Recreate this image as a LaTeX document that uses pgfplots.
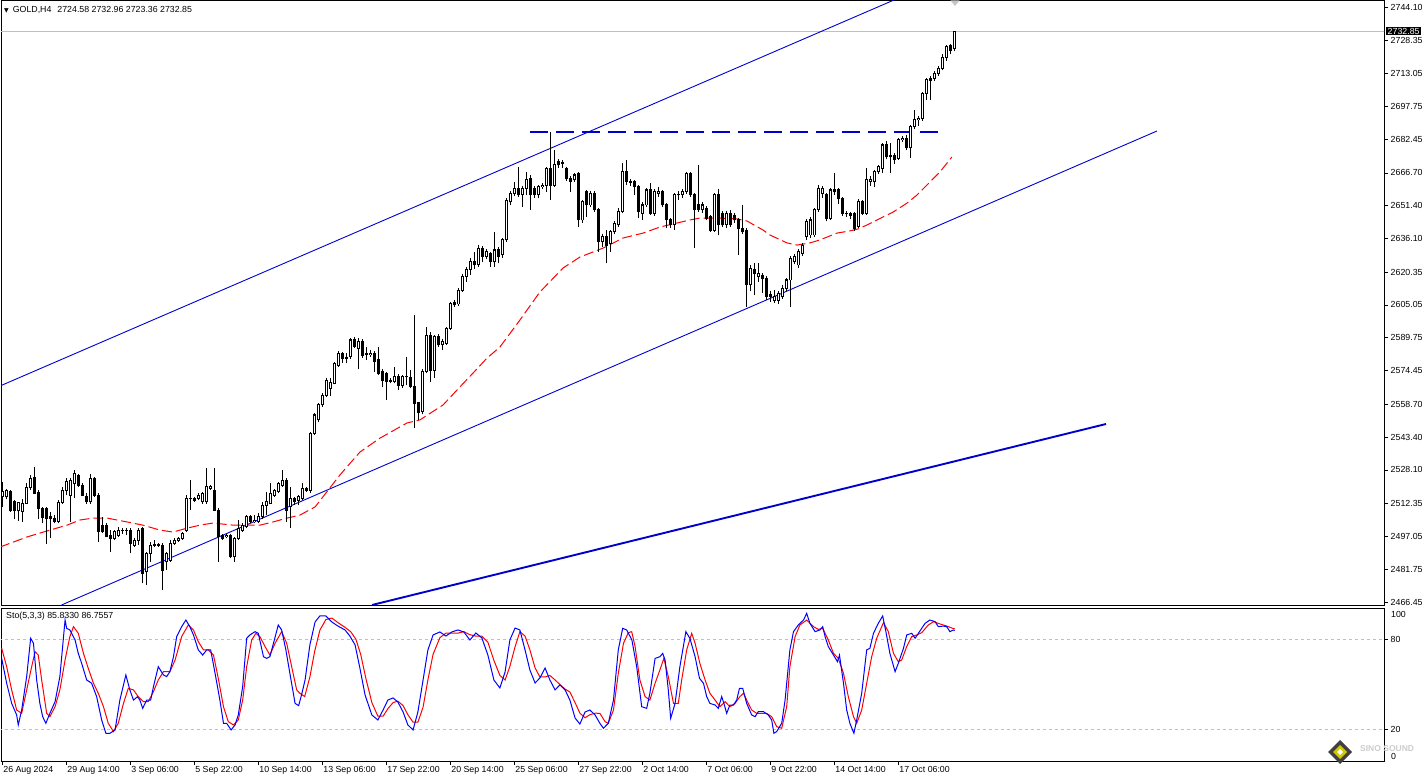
\documentclass[border=0pt]{standalone}
\usepackage{fontspec}
\setmainfont{Liberation Sans}
\newfontfamily\dejavu{DejaVu Sans}
\usepackage{pgfplots}
\usepackage{pgfplotstable}
\pgfplotsset{compat=1.18}
\definecolor{chanblue}{RGB}{0,0,205}
\definecolor{kblue}{RGB}{0,0,255}
\definecolor{dred}{RGB}{255,0,0}
\definecolor{lgray}{RGB}{192,192,192}

\pgfplotstableread{
i o h l c
0 2515.5 2522.6 2510.9 2517.9
1 2515.5 2519.4 2514.3 2518.3
2 2517.9 2518.7 2508.5 2509.0
3 2513.2 2514.0 2505.4 2509.0
4 2509.0 2513.2 2504.3 2512.7
5 2508.5 2514.3 2503.9 2512.4
6 2512.4 2521.8 2512.1 2519.9
7 2519.9 2525.7 2518.7 2524.1
8 2524.6 2529.6 2516.8 2517.1
9 2517.4 2518.7 2505.4 2510.1
10 2510.1 2510.9 2503.1 2505.9
11 2510.0 2510.9 2493.5 2505.4
12 2506.5 2508.5 2496.1 2505.3
13 2505.3 2507.0 2503.1 2504.0
14 2504.0 2514.0 2503.1 2513.1
15 2513.1 2520.2 2512.4 2518.7
16 2518.7 2524.1 2516.2 2522.6
17 2516.3 2524.1 2503.9 2523.3
18 2521.8 2528.0 2514.8 2526.4
19 2525.7 2526.4 2520.2 2521.0
20 2521.0 2521.8 2515.9 2516.3
21 2515.5 2517.1 2512.4 2513.2
22 2513.2 2526.4 2512.4 2524.1
23 2524.1 2524.9 2515.5 2516.3
24 2516.3 2517.1 2494.5 2499.2
25 2502.3 2506.2 2498.7 2499.2
26 2502.3 2503.1 2496.6 2496.9
27 2497.7 2500.0 2489.9 2496.1
28 2496.1 2500.0 2495.3 2499.2
29 2497.7 2501.6 2496.9 2500.0
30 2500.0 2500.8 2498.4 2499.8
31 2500.0 2500.8 2497.7 2499.8
32 2500.0 2501.2 2489.1 2493.8
33 2493.0 2496.1 2492.2 2495.3
34 2495.3 2500.8 2493.0 2500.0
35 2500.8 2501.6 2475.1 2479.8
36 2480.5 2489.9 2474.3 2489.1
37 2489.1 2494.5 2485.2 2493.0
38 2493.0 2495.3 2491.9 2493.1
39 2493.0 2493.8 2492.2 2493.1
40 2493.0 2493.8 2472.0 2481.3
41 2485.2 2489.9 2481.3 2489.1
42 2486.0 2495.3 2485.2 2493.8
43 2493.8 2496.1 2493.0 2495.3
44 2495.3 2496.9 2494.5 2496.1
45 2496.1 2499.2 2495.3 2498.4
46 2500.0 2516.3 2499.2 2514.8
47 2514.8 2523.3 2509.3 2514.6
48 2514.8 2515.5 2513.2 2514.0
49 2514.8 2517.1 2514.0 2516.3
50 2513.2 2517.9 2512.4 2517.1
51 2513.2 2528.8 2512.4 2520.2
52 2519.4 2521.0 2518.7 2520.2
53 2518.7 2528.8 2509.0 2509.3
54 2509.3 2510.1 2485.2 2496.9
55 2497.7 2498.4 2495.3 2496.1
56 2496.9 2498.4 2496.1 2497.7
57 2497.7 2498.4 2486.8 2487.5
58 2487.5 2496.9 2485.2 2496.1
59 2496.1 2504.7 2495.3 2500.8
60 2500.0 2503.1 2499.2 2502.3
61 2501.6 2507.0 2500.8 2506.2
62 2506.2 2507.0 2503.1 2503.9
63 2503.9 2507.0 2503.1 2504.7
64 2503.9 2507.8 2503.1 2506.2
65 2506.2 2513.2 2505.4 2511.7
66 2511.7 2517.9 2507.0 2513.2
67 2512.4 2521.8 2512.1 2517.1
68 2516.3 2519.4 2515.5 2518.7
69 2517.9 2522.6 2517.1 2521.8
70 2521.0 2528.0 2520.2 2523.3
71 2523.3 2524.1 2503.9 2509.3
72 2510.9 2520.2 2500.8 2514.8
73 2514.8 2515.5 2511.7 2513.2
74 2514.0 2516.3 2511.7 2515.5
75 2514.8 2521.8 2514.0 2519.4
76 2519.4 2520.2 2517.9 2518.7
77 2518.7 2546.0 2517.5 2545.3
78 2545.1 2554.5 2544.5 2553.7
79 2551.4 2559.1 2550.5 2558.4
80 2558.4 2564.0 2557.6 2563.0
81 2563.0 2570.8 2562.2 2570.0
82 2566.2 2571.0 2562.5 2569.0
83 2568.5 2578.5 2568.0 2577.8
84 2577.0 2583.5 2576.3 2582.5
85 2582.5 2583.3 2578.0 2580.1
86 2580.1 2582.5 2577.8 2580.3
87 2580.9 2589.8 2580.0 2588.7
88 2588.7 2590.3 2584.8 2585.6
89 2584.8 2589.5 2575.0 2587.9
90 2587.9 2589.0 2580.5 2581.7
91 2582.5 2585.6 2579.4 2582.0
92 2582.0 2584.0 2580.9 2582.5
93 2582.5 2583.5 2573.9 2578.6
94 2579.4 2585.6 2572.4 2573.1
95 2573.9 2575.0 2566.9 2570.0
96 2573.1 2574.0 2560.7 2569.3
97 2569.5 2571.0 2568.5 2569.7
98 2569.3 2576.3 2568.5 2571.6
99 2571.6 2573.0 2565.4 2567.7
100 2567.7 2572.5 2566.5 2571.6
101 2571.6 2581.0 2567.5 2571.8
102 2571.3 2574.7 2566.1 2566.9
103 2566.9 2600.4 2547.5 2559.2
104 2559.3 2559.8 2551.4 2555.1
105 2555.2 2575.0 2554.0 2573.9
106 2573.9 2595.0 2573.1 2591.0
107 2591.0 2592.5 2569.3 2574.7
108 2574.7 2591.0 2571.0 2590.2
109 2590.2 2591.5 2585.5 2586.4
110 2586.4 2589.0 2584.0 2587.9
111 2587.2 2595.0 2586.5 2594.2
112 2594.2 2606.5 2593.5 2605.8
113 2606.4 2607.5 2604.0 2605.1
114 2605.5 2613.0 2604.8 2612.0
115 2612.0 2619.5 2611.0 2618.5
116 2618.5 2623.0 2616.0 2621.5
117 2621.5 2627.0 2619.0 2625.5
118 2625.5 2630.0 2622.0 2624.0
119 2624.0 2633.0 2623.0 2631.5
120 2631.5 2632.5 2625.2 2627.6
121 2627.6 2631.0 2626.5 2629.9
122 2629.1 2630.0 2622.9 2625.2
123 2625.2 2639.3 2622.9 2630.7
124 2630.7 2632.0 2624.5 2627.6
125 2628.4 2636.5 2627.0 2635.4
126 2635.4 2655.0 2634.5 2654.0
127 2653.2 2658.0 2651.5 2657.1
128 2657.1 2662.6 2656.0 2659.5
129 2659.5 2669.6 2655.6 2656.4
130 2656.4 2660.5 2650.9 2659.5
131 2659.5 2667.3 2656.4 2663.4
132 2664.1 2665.5 2649.4 2656.4
133 2659.5 2660.5 2655.0 2656.4
134 2656.4 2661.0 2654.8 2660.2
135 2660.2 2662.0 2659.0 2661.0
136 2661.0 2669.6 2657.9 2668.8
137 2668.8 2685.8 2654.0 2661.0
138 2661.0 2677.4 2660.0 2670.4
139 2671.9 2673.0 2669.0 2670.4
140 2671.1 2672.7 2668.8 2671.3
141 2668.8 2669.6 2663.0 2664.1
142 2664.1 2665.0 2657.9 2662.6
143 2663.4 2666.5 2662.6 2665.7
144 2666.5 2667.3 2641.6 2644.7
145 2644.7 2654.0 2643.5 2653.2
146 2657.9 2658.7 2646.2 2651.7
147 2651.7 2658.0 2650.9 2657.1
148 2657.1 2658.0 2648.6 2649.4
149 2649.4 2650.1 2629.9 2634.6
150 2634.6 2638.0 2632.0 2636.9
151 2636.9 2640.0 2624.5 2633.0
152 2633.8 2640.0 2629.9 2639.3
153 2639.3 2644.0 2638.0 2643.1
154 2642.4 2650.1 2641.6 2648.6
155 2648.6 2671.1 2647.8 2667.3
156 2667.3 2672.7 2661.0 2662.6
157 2662.6 2664.0 2660.5 2662.3
158 2662.6 2663.4 2656.4 2660.2
159 2660.2 2661.0 2645.5 2648.6
160 2647.8 2653.0 2644.7 2651.7
161 2651.7 2659.5 2650.9 2658.7
162 2658.7 2661.8 2647.0 2647.8
163 2647.8 2659.0 2646.5 2657.9
164 2657.1 2660.2 2655.6 2657.9
165 2657.9 2658.5 2650.9 2651.7
166 2651.7 2652.5 2640.8 2644.7
167 2644.7 2645.5 2640.8 2642.4
168 2642.4 2657.1 2640.0 2656.4
169 2656.4 2658.0 2654.0 2656.6
170 2656.4 2659.0 2655.0 2657.9
171 2657.9 2667.3 2657.0 2666.5
172 2666.5 2667.3 2655.6 2656.4
173 2656.4 2657.1 2631.5 2649.4
174 2651.7 2670.4 2648.6 2649.4
175 2649.4 2653.0 2648.0 2651.7
176 2650.1 2651.0 2644.7 2645.5
177 2646.2 2647.0 2639.3 2640.0
178 2640.0 2657.1 2639.3 2656.4
179 2656.4 2659.0 2637.5 2642.4
180 2647.8 2649.0 2641.6 2642.4
181 2642.4 2649.0 2641.0 2647.8
182 2647.8 2649.4 2641.6 2642.4
183 2647.0 2648.0 2643.5 2644.7
184 2644.7 2645.5 2628.4 2640.8
185 2640.8 2651.7 2638.0 2639.3
186 2640.0 2641.0 2604.2 2614.4
187 2614.4 2623.5 2611.5 2622.1
188 2621.4 2624.5 2609.7 2619.5
189 2618.2 2624.5 2616.0 2619.8
190 2619.0 2620.0 2610.5 2617.5
191 2617.5 2618.5 2607.5 2608.9
192 2609.7 2611.5 2606.5 2608.9
193 2607.3 2612.0 2606.0 2608.9
194 2607.3 2611.5 2605.5 2610.5
195 2608.9 2614.5 2608.0 2612.8
196 2612.8 2617.5 2611.5 2616.7
197 2616.7 2628.0 2604.2 2626.8
198 2625.2 2629.0 2624.0 2627.6
199 2623.7 2631.0 2622.5 2629.9
200 2629.1 2634.0 2628.0 2633.0
201 2636.9 2645.0 2635.5 2643.9
202 2637.7 2646.0 2636.5 2644.7
203 2637.7 2650.5 2636.9 2649.4
204 2649.4 2661.0 2648.5 2659.5
205 2657.1 2660.5 2655.0 2659.5
206 2656.4 2657.5 2644.0 2645.5
207 2645.5 2659.5 2644.7 2658.7
208 2658.7 2666.5 2656.5 2657.9
209 2658.7 2659.5 2652.0 2654.8
210 2654.8 2655.6 2646.5 2647.8
211 2647.8 2649.0 2646.0 2647.6
212 2647.8 2648.6 2645.0 2647.0
213 2647.8 2648.6 2639.5 2640.8
214 2641.6 2654.5 2640.8 2653.3
215 2653.3 2654.0 2647.0 2647.8
216 2647.8 2668.8 2647.0 2663.4
217 2662.6 2665.0 2660.5 2663.4
218 2662.6 2668.0 2660.0 2667.3
219 2667.3 2670.4 2666.0 2669.6
220 2668.8 2680.5 2666.8 2679.7
221 2679.7 2681.5 2673.0 2674.2
222 2675.0 2680.5 2666.5 2674.2
223 2675.0 2676.0 2671.0 2672.7
224 2673.4 2683.0 2672.5 2682.3
225 2682.3 2684.0 2681.0 2682.8
226 2682.8 2684.5 2677.5 2678.6
227 2678.4 2689.0 2673.5 2688.2
228 2688.2 2696.0 2687.0 2691.4
229 2691.4 2693.0 2688.5 2692.1
230 2692.1 2704.5 2691.0 2703.8
231 2703.8 2711.0 2700.5 2710.3
232 2710.8 2712.0 2700.7 2710.0
233 2710.8 2714.0 2709.5 2713.1
234 2713.1 2716.5 2712.0 2715.5
235 2715.5 2722.0 2714.5 2720.6
236 2720.6 2726.5 2719.0 2725.6
237 2725.9 2726.9 2722.0 2724.0
238 2724.58 2732.96 2723.36 2732.85
}\candles

\pgfplotstableread{
i p
-0.67 2492.1
6.1 2496.8
11.8 2500.0
16.1 2502.3
19.3 2504.7
22.6 2505.6
26.1 2505.6
31.1 2503.8
35.1 2502.3
39.3 2500.0
42.6 2499.1
46.1 2500.9
49.3 2502.3
52.6 2503.3
57.6 2502.3
64.3 2502.3
67.6 2503.8
71.1 2505.6
74.3 2507.0
78.1 2510.8
84.3 2525.7
89.3 2536.4
94.3 2542.9
101.1 2550.0
104.3 2551.4
110.1 2558.4
114.3 2566.8
117.6 2573.3
121.1 2580.3
124.3 2585.4
129.3 2598.0
134.3 2611.1
140.1 2622.3
144.3 2627.4
150.1 2631.6
155.1 2636.3
160.1 2638.6
164.3 2641.4
168.6 2643.3
171.8 2644.7
174.3 2645.6
179.3 2645.6
183.6 2645.2
186.1 2644.2
190.1 2640.0
191.8 2637.7
196.1 2634.0
198.6 2633.0
201.8 2634.0
204.3 2635.4
208.6 2638.6
211.8 2639.6
213.8 2640.5
216.1 2642.4
220.1 2646.1
222.6 2648.4
226.1 2652.6
228.6 2656.4
231.8 2662.4
234.3 2667.1
237.3 2674.1
}\ma

\pgfplotstableread{
i k
-0.25 67.3
1.0 50.8
2.25 37.5
3.5 29.8
3.9 23.2
4.75 33.1
6.0 55.2
7.0 80.6
7.7 77.3
8.5 53.0
9.3 37.5
10.0 28.7
10.8 24.3
11.8 30.9
13.1 38.6
14.3 55.2
15.6 92.7
16.0 87.2
16.8 86.1
18.1 79.5
18.9 70.6
19.75 64.0
21.0 53.0
22.25 50.8
23.5 41.9
24.75 26.5
25.8 17.7
26.8 17.7
28.1 19.9
29.3 39.7
30.8 56.3
31.8 46.4
32.7 39.7
33.7 41.9
34.3 39.7
35.0 34.2
36.0 39.7
37.0 39.7
37.7 48.6
38.9 61.8
40.2 56.3
41.0 55.2
41.8 58.5
42.7 68.4
43.5 81.7
44.75 88.3
45.8 92.7
46.8 88.3
47.7 82.8
48.9 72.9
50.0 69.5
51.0 72.9
52.0 72.9
53.1 57.4
54.3 39.7
55.2 24.3
56.0 24.3
57.1 19.9
58.1 23.2
58.9 29.8
60.0 48.6
61.0 80.6
61.8 82.8
63.1 85.0
63.9 83.9
65.2 68.4
66.0 67.3
66.8 68.4
67.7 77.3
68.9 89.4
69.75 86.1
70.8 72.9
71.8 57.4
73.1 37.5
74.0 36.0
74.8 44.0
75.6 53.0
76.8 76.2
78.1 91.4
79.3 95.4
80.8 95.4
82.3 91.4
83.8 88.7
85.6 86.1
86.8 82.1
88.1 76.2
89.3 60.9
90.6 43.0
92.3 29.8
93.8 26.5
95.1 33.1
96.3 39.7
97.6 41.1
98.8 38.4
100.1 31.8
101.3 23.2
102.6 19.9
103.8 31.8
105.1 53.0
106.3 72.8
107.6 82.8
109.3 84.8
110.8 82.1
112.3 84.8
113.8 86.1
115.3 84.8
116.8 79.5
118.3 84.1
119.8 80.8
121.3 69.5
122.8 53.0
124.3 47.7
125.6 58.3
126.8 79.5
128.1 87.4
129.3 86.1
130.6 72.8
131.8 59.6
133.1 51.0
134.3 54.3
135.6 60.9
136.8 53.0
138.1 46.4
139.3 49.7
140.6 46.4
141.8 39.7
143.1 27.8
144.3 23.8
145.6 31.8
146.8 33.1
148.1 29.8
149.3 24.3
150.2 21.0
151.4 24.3
152.7 39.7
153.9 72.9
155.0 87.2
156.0 86.1
157.3 79.5
158.5 61.8
159.75 35.3
161.0 34.2
161.8 44.2
163.1 67.3
164.3 68.4
165.0 70.6
165.6 66.2
166.4 46.4
167.0 27.6
168.1 37.5
169.3 61.8
170.8 85.0
171.8 80.6
173.1 68.4
174.2 54.1
175.2 50.8
176.0 42.0
176.8 37.5
178.1 36.4
178.9 34.2
179.75 42.0
180.3 37.5
181.0 30.9
181.8 36.4
182.7 36.4
183.5 39.7
184.2 47.5
185.0 47.5
186.0 37.5
187.25 29.8
188.1 28.7
188.9 32.0
190.2 32.0
191.4 29.8
192.25 26.5
192.8 17.7
193.5 18.8
194.75 24.3
195.6 39.7
196.8 72.9
197.7 85.0
198.9 89.4
200.2 92.7
201.0 97.1
201.8 90.5
203.1 85.0
204.3 86.1
205.0 88.3
205.6 81.7
206.4 75.1
207.7 69.5
208.7 65.1
209.2 69.5
210.2 50.8
211.0 33.1
211.8 24.3
212.8 17.7
213.5 26.5
214.75 44.2
216.0 72.9
216.8 74.0
217.7 83.9
218.9 90.5
220.0 95.4
220.8 85.0
221.8 70.6
223.1 58.5
223.9 64.0
225.2 74.0
226.0 82.8
227.25 83.9
228.1 80.6
229.2 85.0
230.6 90.5
231.8 92.7
233.1 91.6
233.9 88.3
235.2 88.7
236.0 88.3
236.8 85.0
237.7 86.1
238.0 85.8
}\stk

\pgfplotstableread{
i d
-0.25 74.0
1.0 61.8
2.25 46.4
3.5 33.1
4.75 30.9
6.0 46.4
7.25 61.8
8.1 71.7
8.9 69.5
9.75 53.0
11.0 30.9
11.8 28.7
13.1 35.3
14.3 46.4
15.6 66.2
16.8 81.7
17.7 88.3
18.9 83.9
20.2 70.6
21.4 60.7
22.7 50.8
23.9 44.2
25.2 35.3
26.4 24.3
27.7 18.8
28.9 24.3
30.2 37.5
31.4 47.5
32.7 46.4
33.9 41.9
35.2 38.6
36.4 38.6
37.7 45.3
38.9 53.0
40.2 58.5
41.8 58.5
43.1 66.2
44.75 81.7
46.4 89.4
47.7 86.1
48.9 78.4
50.2 72.9
51.4 72.9
52.7 69.5
53.9 54.1
55.2 35.3
56.4 25.4
57.7 23.2
58.9 26.5
60.0 39.7
61.0 61.8
62.25 79.5
63.3 83.9
64.3 81.7
65.6 75.1
66.8 69.5
68.1 77.3
69.75 85.0
71.0 77.3
72.25 61.8
73.5 46.4
74.3 44.2
75.5 42.0
76.8 55.0
78.0 72.0
79.3 86.0
80.8 93.0
82.3 94.0
83.8 91.0
85.5 88.0
87.0 85.0
88.3 80.0
89.5 70.0
90.8 54.0
92.3 38.0
93.8 29.0
95.1 29.0
96.3 34.0
97.6 38.0
98.8 39.0
100.1 36.0
101.3 30.0
102.6 25.0
103.8 25.0
105.1 35.0
106.3 53.0
107.6 70.0
109.3 81.0
110.8 84.0
112.3 84.0
113.8 84.0
115.3 85.0
116.8 83.0
118.3 82.0
119.8 82.0
121.3 78.0
122.8 66.0
124.3 56.0
125.6 53.0
126.8 62.0
128.1 75.0
129.3 85.0
130.6 82.0
131.8 73.0
133.1 61.0
134.3 55.0
135.6 55.0
136.8 56.0
138.1 53.0
139.3 50.0
140.6 47.0
141.8 45.0
143.1 38.0
144.3 31.0
145.6 28.0
146.8 30.0
148.1 31.0
149.3 30.9
150.6 25.4
151.4 24.3
152.7 33.1
153.9 57.4
155.2 77.3
156.4 84.3
157.25 85.0
158.1 75.1
159.3 53.0
160.6 42.0
161.8 39.7
163.1 50.8
164.3 59.6
165.3 67.3
166.4 55.2
167.7 37.5
168.9 37.5
169.75 53.0
171.0 72.9
172.25 83.9
173.1 77.3
174.3 64.0
175.6 53.0
176.8 44.2
178.1 39.7
179.3 35.3
180.6 38.6
181.8 35.3
183.1 37.5
184.3 42.0
185.2 44.2
186.0 39.7
187.25 33.1
188.5 30.9
189.75 30.9
191.0 30.9
192.25 28.7
193.5 22.1
194.75 21.0
196.0 35.3
196.8 61.8
198.1 81.7
199.3 89.4
201.0 92.7
202.7 88.3
203.9 86.5
205.0 87.2
206.4 79.5
207.7 70.6
208.9 67.3
210.2 57.4
211.4 42.0
212.7 28.7
213.5 24.3
214.75 33.1
216.0 50.8
217.25 68.4
218.5 80.6
220.2 91.0
221.4 85.0
222.7 70.6
223.9 65.1
224.75 66.2
226.0 75.1
227.25 81.7
228.5 82.8
229.75 84.3
231.4 89.4
232.7 91.6
234.3 90.1
236.0 88.7
237.5 87.2
238.0 86.8
}\std

\newcommand{\lblfont}{\fontsize{8.8}{10}\selectfont}

\begin{document}
\begin{tikzpicture}[x=1pt,y=1pt]
\path[use as bounding box] (0pt,0pt) rectangle (1428pt,778pt);

% ---------------- main price panel ----------------
\begin{axis}[
  at={(1pt,173pt)}, anchor=south west,
  scale only axis, width=1383pt, height=604.5pt,
  xmin=-0.4175, xmax=345.33, ymin=2465.05, ymax=2747.13,
  axis line style={black, line width=0.8pt},
  xtick=\empty,
  ytick={2744.10,2728.35,2713.05,2697.75,2682.45,2666.70,2651.40,2636.10,2620.35,2605.05,2589.75,2574.45,2558.70,2543.40,2528.10,2512.35,2497.05,2481.75,2466.45},
  yticklabels={2744.10,2728.35,2713.05,2697.75,2682.45,2666.70,2651.40,2636.10,2620.35,2605.05,2589.75,2574.45,2558.70,2543.40,2528.10,2512.35,2497.05,2481.75,2466.45},
  ytick pos=right, yticklabel pos=right,
  tick align=outside, major tick length=4pt,
  tick style={black, line width=0.7pt},
  yticklabel style={anchor=west, inner sep=0pt, xshift=2.5pt, font=\lblfont},
  clip=true,
]
% current price line
\addplot[lgray, line width=0.9pt, forget plot] coordinates {(-1,2732.85) (346,2732.85)};
% channel lines
\addplot[chanblue, line width=0.9pt, forget plot] coordinates {(-0.67,2567.24) (240,2761.2)};
\addplot[chanblue, line width=0.9pt, forget plot] coordinates {(14.71,2465.05) (288.58,2686.24)};
\addplot[chanblue, line width=1.9pt, forget plot] coordinates {(92.33,2465.05) (275.83,2549.51)};
\addplot[chanblue, line width=1.1pt, dash pattern=on 18pt off 8pt, forget plot] coordinates {(131.8,2685.77) (235.1,2685.77)};
% moving average
\addplot[dred, line width=1pt, dash pattern=on 10pt off 4pt, forget plot] table[x=i,y=p]{\ma};
% wicks
\addplot[draw=none, mark=none, forget plot,
  error bars/.cd, y dir=plus, y explicit, error mark=none,
  error bar style={draw=black, solid, line width=1pt}]
  table[x=i, y=l, y error plus expr=\thisrow{h}-\thisrow{l}] {\candles};
% bodies (outline / filled)
\addplot[draw=none, mark=none, forget plot,
  error bars/.cd, y dir=plus, y explicit, error mark=none,
  error bar style={draw=black, solid, line width=3.3pt}]
  table[x=i, y expr={min(\thisrow{o},\thisrow{c})-0.23}, y error plus expr={abs(\thisrow{c}-\thisrow{o})+0.47}] {\candles};
% hollow interiors of rising candles
\addplot[draw=none, mark=none, forget plot,
  error bars/.cd, y dir=plus, y explicit, error mark=none,
  error bar style={draw=white, solid, line width=1.3pt}]
  table[x=i, y expr={\thisrow{o}+0.23}, y error plus expr={max(\thisrow{c}-\thisrow{o}-0.47,0)}] {\candles};
\coordinate (pricept) at (axis cs:345.33,2732.85);
\end{axis}

% ---------------- stochastic panel ----------------
\begin{axis}[
  at={(1pt,17pt)}, anchor=south west,
  scale only axis, width=1383pt, height=153pt,
  xmin=-0.4175, xmax=345.33, ymin=-0.662, ymax=100.662,
  axis line style={black, line width=0.8pt},
  xtick={0,16,32,48,64,80,96,112,128,144,160,176,192,208,224},
  xticklabels={26 Aug 2024,29 Aug 14:00,3 Sep 06:00,5 Sep 22:00,10 Sep 14:00,13 Sep 06:00,17 Sep 22:00,20 Sep 14:00,25 Sep 06:00,27 Sep 22:00,2 Oct 14:00,7 Oct 06:00,9 Oct 22:00,14 Oct 14:00,17 Oct 06:00},
  xtick pos=bottom,
  ytick={20,80},
  yticklabels={20,80},
  ytick pos=right, yticklabel pos=right,
  tick align=outside, major tick length=4pt,
  tick style={black, line width=0.7pt},
  yticklabel style={anchor=west, inner sep=0pt, xshift=2.5pt, font=\lblfont},
  xticklabel style={anchor=north west, inner sep=0pt, xshift=0.5pt, yshift=-1pt, font=\lblfont},
  clip=true,
]
\addplot[lgray, line width=0.8pt, dash pattern=on 3pt off 3pt, forget plot] coordinates {(-1,80) (346,80)};
\addplot[lgray, line width=0.8pt, dash pattern=on 3pt off 3pt, forget plot] coordinates {(-1,20) (346,20)};
\addplot[dred, line width=1pt, forget plot] table[x=i,y=d]{\std};
\addplot[kblue, line width=1pt, forget plot] table[x=i,y=k]{\stk};
\end{axis}

% ---------------- texts and decorations ----------------
\node[anchor=west, inner sep=0pt, font=\lblfont] at (4pt,768pt) {{\dejavu\fontsize{6}{7}\selectfont ▼}\hspace{4pt}GOLD,H4\hspace{6pt}2724.58 2732.96 2723.36 2732.85};
\node[anchor=west, inner sep=0pt, font=\lblfont] at (6pt,162pt) {Sto(5,3,3) 85.8330 86.7557};
\node[anchor=west, fill=black, text=white, inner xsep=1.5pt, inner ysep=1.2pt, font=\lblfont] at ([xshift=2pt]pricept) {2732.85};
\node[anchor=west, inner sep=0pt, font=\lblfont] at (1391pt,164pt) {100};
\node[anchor=west, inner sep=0pt, font=\lblfont] at (1391pt,22pt) {0};
\fill[gray!45] (950.5pt,777.5pt) -- (959.5pt,777.5pt) -- (955pt,772pt) -- cycle;
% watermark
\fill[black!75] (1340pt,38pt) -- (1352pt,26pt) -- (1340pt,14pt) -- (1328pt,26pt) -- cycle;
\fill[yellow!60!olive] (1340pt,33pt) -- (1347pt,26pt) -- (1340pt,19pt) -- (1333pt,26pt) -- cycle;
\fill[white] (1340pt,29pt) -- (1343pt,26pt) -- (1340pt,23pt) -- (1337pt,26pt) -- cycle;
\node[anchor=west, inner sep=0pt, text=black!20, font=\bfseries\fontsize{8.5}{9}\selectfont] at (1360pt,29pt) {SINO SOUND};
\end{tikzpicture}
\end{document}
